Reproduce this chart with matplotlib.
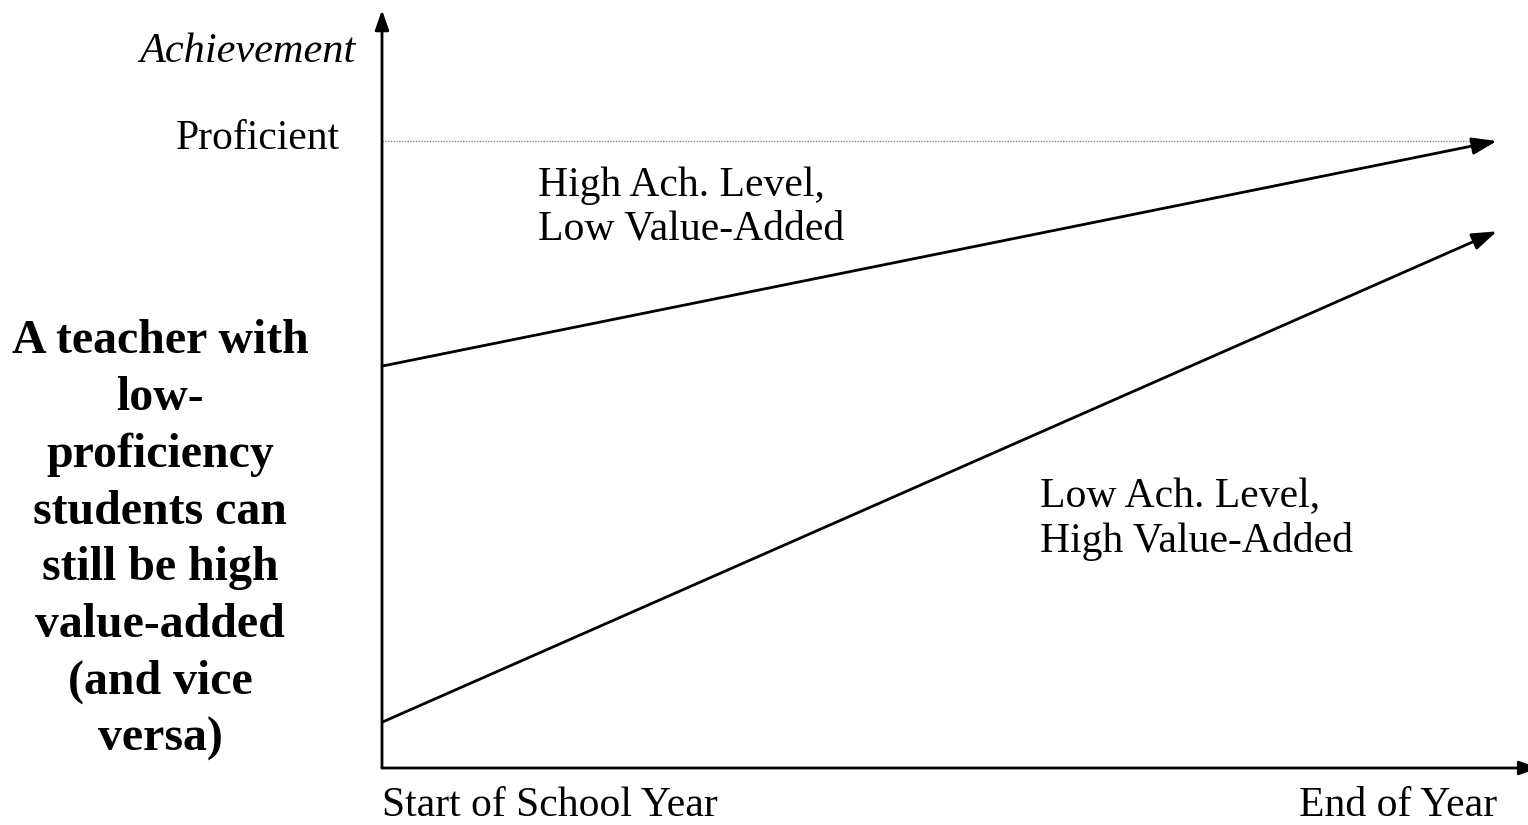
import matplotlib
matplotlib.use("Agg")
import matplotlib.pyplot as plt

# Conceptual data (achievement scale, proficient = 100)
time_points = [0.0, 1.0]
high_ach_low_va = [64.1, 100.0]
low_ach_high_va = [7.3, 85.6]
proficient_level = 100.0
y_top = 120.9
x_right = 1.028

serif = ["Liberation Serif", "DejaVu Serif"]

fig = plt.figure(figsize=(15.28, 8.25), dpi=100)
ax = fig.add_axes([382/1528, 57/825, 1 - 382/1528, 758/825])
ax.set_xlim(0, x_right)
ax.set_ylim(0, y_top)
ax.axis("off")

# axes with arrows
ax.annotate("", xy=(0, y_top), xytext=(0, 0),
            arrowprops=dict(arrowstyle="-|>,head_length=1.2,head_width=0.42", color="black", lw=2, shrinkA=0, shrinkB=0),
            annotation_clip=False)
ax.annotate("", xy=(x_right + 0.01, 0), xytext=(0, 0),
            arrowprops=dict(arrowstyle="-|>,head_length=1.2,head_width=0.42", color="black", lw=2, shrinkA=0, shrinkB=0),
            annotation_clip=False)

# proficient dotted line
ax.plot([0, time_points[1] - 0.006], [proficient_level, proficient_level], color="#888888", lw=1, ls=(0, (1, 1)))

# trajectories
for series in (high_ach_low_va, low_ach_high_va):
    ax.annotate("", xy=(time_points[1], series[1]), xytext=(time_points[0], series[0]),
                arrowprops=dict(arrowstyle="-|>,head_length=1.5,head_width=0.52", color="black", lw=2, shrinkA=0, shrinkB=0),
                annotation_clip=False)

fs = 30
ax.text(-0.024, 114.3, "Achievement", ha="right", va="center", fontsize=30.5, style="italic", family=serif)
ax.text(-0.038, 100.4, "Proficient", ha="right", va="center", fontsize=fs, family=serif)
ax.text(0.14, 89.4, "High Ach. Level,\nLow Value-Added", ha="left", va="center", fontsize=fs, family=serif, linespacing=1.2)
ax.text(0.59, 39.6, "Low Ach. Level,\nHigh Value-Added", ha="left", va="center", fontsize=fs, family=serif, linespacing=1.2)
ax.text(0.0, -6.0, "Start of School Year", ha="left", va="center", fontsize=fs, family=serif)
ax.text(1.0, -6.0, "End of Year", ha="right", va="center", fontsize=fs, family=serif)

fig.text(160/1528, 1 - 540/825,
         "A teacher with\nlow-\nproficiency\nstudents can\nstill be high\nvalue-added\n(and vice\nversa)",
         ha="center", va="center", fontsize=34.5, fontweight="bold", family=serif, linespacing=1.37)

fig.savefig("out.png", dpi=100)
